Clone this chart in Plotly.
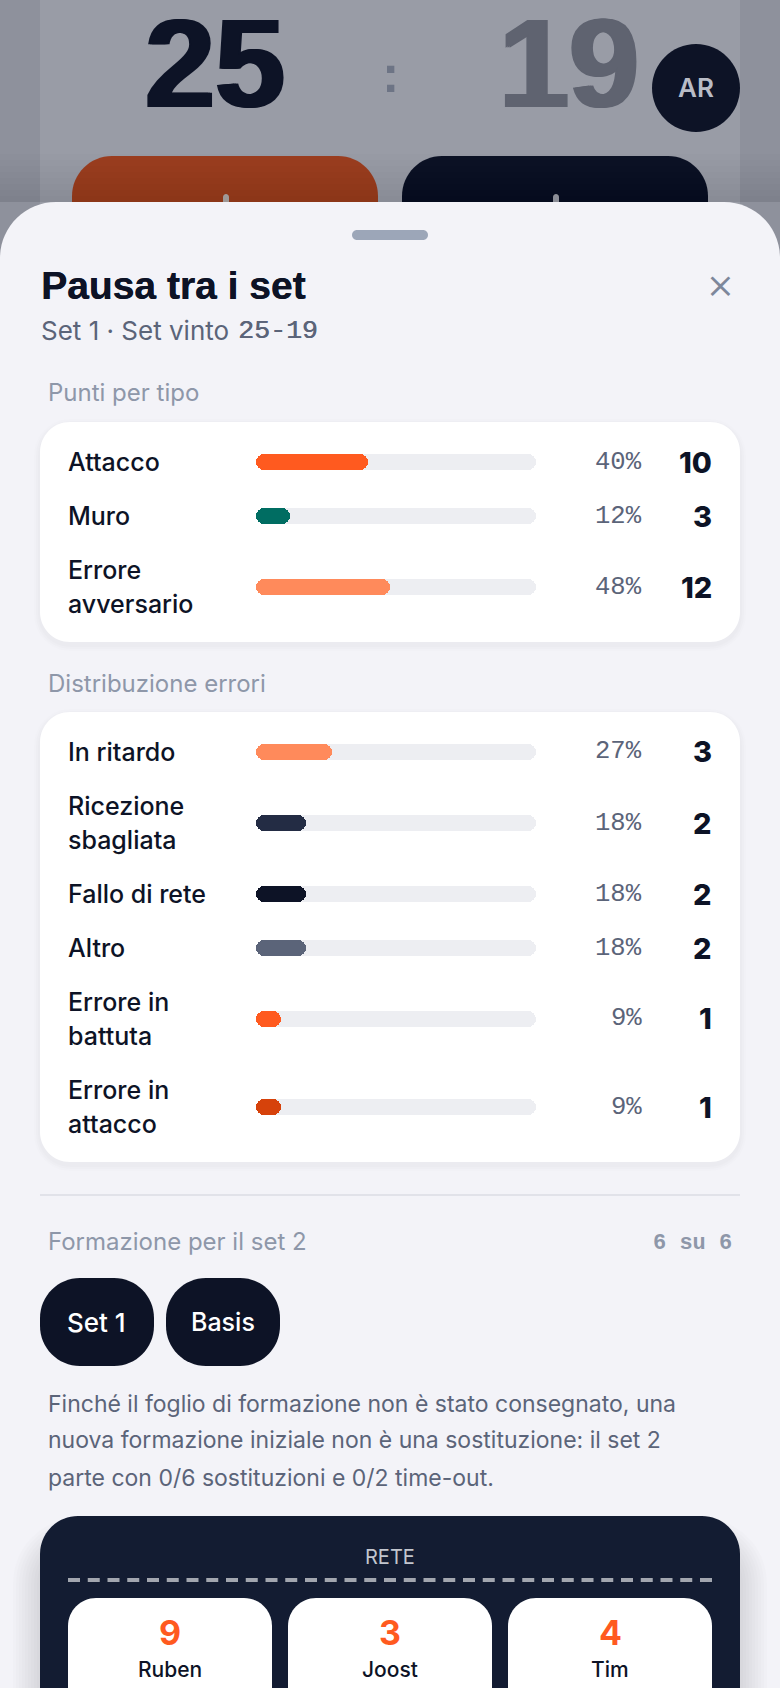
import plotly.graph_objects as go

W, H = 780, 1688
INK = "#0D1326"
MUTED = "#8E97A9"
SLATE = "#5B6479"
ORANGE = "#FF5A1F"
BODY = "Inter"
MONO = "Liberation Mono"
HEAD = "Liberation Sans"

# ---- data ----
points_labels = ["Attacco", "Muro", "Errore<br>avversario"]
points_pct = [40, 12, 48]
points_count = [10, 3, 12]
points_colors = ["#FF5A1F", "#006D62", "#FF8A5B"]

errors_labels = ["In ritardo", "Ricezione<br>sbagliata", "Fallo di rete", "Altro",
                 "Errore in<br>battuta", "Errore in<br>attacco"]
errors_pct = [27, 18, 18, 18, 9, 9]
errors_count = [3, 2, 2, 2, 1, 1]
errors_colors = ["#FF8A5B", "#232C44", "#0D1326", "#5B6479", "#FF5A1F", "#D6420B"]

score_home = "25"
score_away = "19"
net_numbers = ["9", "3", "4"]
net_names = ["Ruben", "Joost", "Tim"]
paragraph = ["Finché il foglio di formazione non è stato consegnato, una",
             "nuova formazione iniziale non è una sostituzione: il set 2",
             "parte con 0/6 sostituzioni e 0/2 time-out."]

# ---- layout helpers ----
def px(x): return x / W
def py(y): return 1 - y / H

shapes = []
annotations = []
K = 0.4477  # control-point inset for a circular corner

def rrect(x0, y0, x1, y1, r, fill, opacity=1.0):
    k = r * K
    p = (f"M {px(x0+r)} {py(y0)} L {px(x1-r)} {py(y0)} "
         f"C {px(x1-k)} {py(y0)} {px(x1)} {py(y0+k)} {px(x1)} {py(y0+r)} "
         f"L {px(x1)} {py(y1-r)} "
         f"C {px(x1)} {py(y1-k)} {px(x1-k)} {py(y1)} {px(x1-r)} {py(y1)} "
         f"L {px(x0+r)} {py(y1)} "
         f"C {px(x0+k)} {py(y1)} {px(x0)} {py(y1-k)} {px(x0)} {py(y1-r)} "
         f"L {px(x0)} {py(y0+r)} "
         f"C {px(x0)} {py(y0+k)} {px(x0+k)} {py(y0)} {px(x0+r)} {py(y0)} Z")
    shapes.append(dict(type="path", path=p, xref="paper", yref="paper", fillcolor=fill,
                       opacity=opacity, line=dict(width=0), layer="below"))

def rect(x0, y0, x1, y1, fill, opacity=1.0):
    shapes.append(dict(type="rect", x0=px(x0), x1=px(x1), y0=py(y1), y1=py(y0), xref="paper", yref="paper",
                       fillcolor=fill, opacity=opacity, line=dict(width=0), layer="below"))

def text(x, y, s, size, color, family=BODY, weight=400, anchor="left", shadow=None):
    f = dict(size=size, color=color, family=family, weight=weight)
    if shadow:
        f["shadow"] = shadow
    annotations.append(dict(x=px(x), y=py(y), xref="paper", yref="paper", text=s, showarrow=False,
                            xanchor=anchor, yanchor="middle", align=anchor, font=f,
                            borderpad=0, borderwidth=0))

def shadow_card(x0, y0, x1, y1, r):
    for i, op in ((6, .008), (4, .010), (2, .012)):
        rrect(x0 - i, y0 - i + 3, x1 + i, y1 + i + 3, r + i, "#000000", op)
    rrect(x0, y0, x1, y1, r, "#FFFFFF")

# ---- dimmed screen behind the sheet ----
rect(0, 0, W, H, "#8E919C")
rect(40, 0, 740, 210, "#999CA6")
rrect(72, 156, 378, 300, 40, "#9C3E20")
rrect(402, 156, 708, 300, 40, "#0D1326")
rrect(223, 194, 229, 230, 3, "#B0A8A6")
rrect(553, 194, 559, 230, 3, "#9A9DA6")
for i in range(8):
    rect(0, 202 - 6 * (i + 1), W, 202, "#000000", 0.012)
rrect(652, 44, 740, 132, 44, INK)

# ---- sheet ----
rrect(0, 202, W, H + 80, 56, "#F3F3F8")
rrect(352, 230, 428, 240, 5, "#9CA6B8")

shadow_card(40, 422, 740, 642, 30)
shadow_card(40, 712, 740, 1162, 30)
rect(40, 1194, 740, 1196, "#E1E2E9")

rrect(40, 1278, 154, 1366, 40, INK)
rrect(166, 1278, 280, 1366, 40, INK)

for i in range(10):
    rrect(40 - 3 * i, 1545 - 3 * i, 740 + 3 * i, H + 120, 38 + 3 * i, "#000000", 0.012)
rrect(40, 1516, 740, H + 60, 38, "#131C32")
for k in range(33):
    rect(68 + 19.75 * k, 1578, 80 + 19.75 * k, 1582, "#A2A6AF")
for x0 in (68, 288, 508):
    rrect(x0, 1598, x0 + 204, H + 60, 28, "#FFFFFF")

# ---- rows: vertical position follows the number of label lines ----
def row_centres(labels, top):
    out, y = [], top
    for s in labels:
        h = 68 if "<br>" in s else 34
        out.append(y + h / 2)
        y += h + 20
    return out

y1 = row_centres(points_labels, 445)
y2 = row_centres(errors_labels, 735)

rows_y = y1 + y2
rows_pct = points_pct + errors_pct
rows_count = points_count + errors_count
rows_labels = points_labels + errors_labels
rows_colors = points_colors + errors_colors

fig = go.Figure()
fig.add_trace(go.Bar(x=[100] * len(rows_y), y=rows_y, base=0, orientation="h", width=16,
                     xaxis="x", yaxis="y",
                     marker=dict(color="#EDEEF2", line=dict(width=0)), hoverinfo="skip", showlegend=False))
fig.add_trace(go.Bar(x=rows_pct, y=rows_y, base=0, orientation="h", width=16,
                     xaxis="x2", yaxis="y2",
                     marker=dict(color=rows_colors, line=dict(width=0)), showlegend=False))

for yy, lab, pct, cnt in zip(rows_y, rows_labels, rows_pct, rows_count):
    parts = lab.split("<br>")
    offs = [0] if len(parts) == 1 else [-17, 17]
    for part, off in zip(parts, offs):
        text(68, yy + off, part, 25, INK, BODY, 550)
    text(641.5, yy, f"{pct}%", 25.6, SLATE, MONO, anchor="right")
    text(712, yy, str(cnt), 29, INK, BODY, 800, anchor="right")

# ---- text ----
text(145, 64, score_home, 126, INK, HEAD, 700, shadow=f"2px 0 0 {INK}, -2px 0 0 {INK}")
text(499, 64, score_away, 126, "#5F6370", HEAD, 700, shadow="2px 0 0 #5F6370, -2px 0 0 #5F6370")
text(390, 74, ":", 52, "#6D7485", HEAD, 700, anchor="center")
text(696, 88, "AR", 26, "#B9BCC6", BODY, 600, anchor="center")

text(41, 285, "Pausa tra i set", 39, INK, HEAD, 700, shadow=f"0.4px 0 0 {INK}")
text(41, 331, "Set 1 · Set vinto", 26, SLATE, BODY)
text(238, 331, "25-19", 26.6, SLATE, MONO, shadow=f"0.5px 0 0 {SLATE}")
text(720, 283, "×", 44, "#7D879B", BODY, 300, anchor="center")
text(48, 393, "Punti per tipo", 24, MUTED)
text(48, 683, "Distribuzione errori", 24, MUTED)
text(48, 1241, "Formazione per il set 2", 24, MUTED)
text(732, 1243, "6 su 6", 22, MUTED, MONO, 700, anchor="right")
text(96, 1322, "Set 1", 26, "#FFFFFF", BODY, 500, anchor="center")
text(223, 1322, "Basis", 25, "#FFFFFF", BODY, 500, anchor="center")
for yy, s in zip((1404, 1440, 1478), paragraph):
    text(48, yy, s, 23, SLATE)
text(390, 1557, "RETE", 20, "#C2C6CE", BODY, anchor="center")
for cx, n, nm in zip((170, 390, 610), net_numbers, net_names):
    text(cx, 1632, n, 34, ORANGE, BODY, 700, anchor="center")
    text(cx, 1669, nm, 21, INK, BODY, 500, anchor="center")

track_x = dict(domain=[px(256), px(536)], range=[0, 100], visible=False, fixedrange=True)
full_y = dict(domain=[0, 1], range=[H, 0], visible=False, fixedrange=True)

fig.update_layout(
    width=W, height=H, autosize=False,
    margin=dict(l=0, r=0, t=0, b=0, pad=0),
    paper_bgcolor="#8E919C", plot_bgcolor="rgba(0,0,0,0)",
    barmode="overlay", barcornerradius=8, bargap=0,
    xaxis=track_x,
    yaxis=full_y,
    xaxis2=dict(track_x, overlaying="x", anchor="y2"),
    yaxis2=dict(full_y, overlaying="y", anchor="x2"),
    shapes=shapes, annotations=annotations, showlegend=False,
)
fig.write_html("out.html", config=dict(displayModeBar=False),
               post_script="document.body.style.margin='0';document.body.style.overflow='hidden';")
